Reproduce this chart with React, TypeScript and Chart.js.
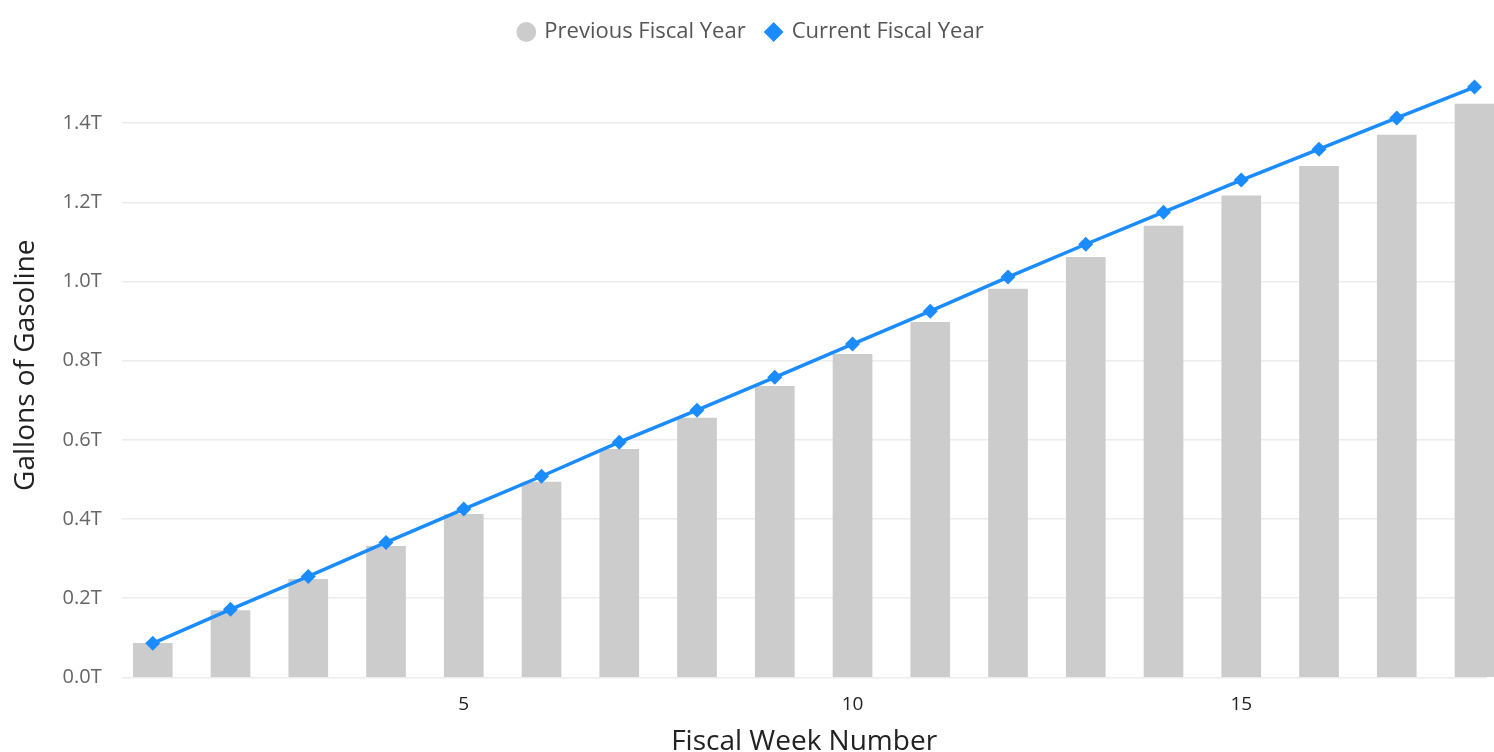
import React, { useEffect, useRef } from "react";
import { Chart, registerables } from "chart.js";

Chart.register(...registerables);

const weeks = [1, 2, 3, 4, 5, 6, 7, 8, 9, 10, 11, 12, 13, 14, 15, 16, 17, 18];
const previousFY = [0.086, 0.169, 0.248, 0.331, 0.412, 0.493, 0.576, 0.655, 0.735, 0.816, 0.897, 0.981, 1.061, 1.14, 1.216, 1.291, 1.37, 1.448];
const currentFY = [0.086, 0.172, 0.255, 0.341, 0.425, 0.508, 0.594, 0.675, 0.758, 0.842, 0.925, 1.011, 1.094, 1.175, 1.256, 1.334, 1.413, 1.491];
const xTicks = [5, 10, 15];
const yTicks = [0, 0.2, 0.4, 0.6, 0.8, 1.0, 1.2, 1.4];
const T = 1e12;

const FONT = "'Open Sans', 'Noto Sans', sans-serif";

export default function App() {
  const ref = useRef<HTMLCanvasElement | null>(null);
  useEffect(() => {
    document.body.style.margin = "0";
    if (!ref.current) return;
    const chart = new Chart(ref.current, {
      type: "bar",
      data: {
        datasets: [
          {
            type: "bar",
            label: "Previous Fiscal Year",
            data: weeks.map((w, i) => ({ x: w, y: previousFY[i] * T })),
            backgroundColor: "#cccccc",
            borderWidth: 0,
            barThickness: 39,
            clip: false,
            order: 2,
          } as any,
          {
            type: "line",
            label: "Current Fiscal Year",
            data: weeks.map((w, i) => ({ x: w, y: currentFY[i] * T })),
            borderColor: "#1a8cff",
            backgroundColor: "#1a8cff",
            borderWidth: 3.5,
            pointStyle: "rectRot",
            pointRadius: 7.5,
            pointBorderWidth: 0,
            clip: false,
            order: 1,
          } as any,
        ],
      },
      options: {
        animation: false,
        responsive: true,
        maintainAspectRatio: false,
        layout: { padding: { left: 9, right: 0, top: 0, bottom: 0 } },
        plugins: {
          tooltip: { enabled: false },
          legend: {
            position: "top",
            labels: {
              usePointStyle: true,
              font: { family: FONT, size: 22 },
              color: "#555555",
              boxWidth: 14,
              boxHeight: 14,
              padding: 21,
              generateLabels: (c: any) => {
                return c.data.datasets.map((ds: any, i: number) => ({
                  text: ds.label,
                  fillStyle: i === 0 ? "#cccccc" : "#1a8cff",
                  strokeStyle: i === 0 ? "#cccccc" : "#1a8cff",
                  lineWidth: 0,
                  pointStyle: i === 0 ? "circle" : "rectRot",
                  datasetIndex: i,
                  hidden: false,
                  fontColor: "#555555",
                }));
              },
            },
          },
        },
        scales: {
          x: {
            type: "linear",
            min: 0.601,
            max: 18.154,
            offset: false,
            grid: { display: false, offset: false },
            border: { display: false },
            afterBuildTicks: (s: any) => {
              s.ticks = xTicks.map((v) => ({ value: v }));
            },
            ticks: {
              font: { family: FONT, size: 19, lineHeight: 1.0 },
              color: "#222222",
              padding: 10,
              callback: (v: any) => String(v),
            },
            title: {
              display: true,
              text: "Fiscal Week Number",
              font: { family: FONT, size: 28 },
              color: "#222222",
              padding: { top: 1, bottom: -7 },
            },
          },
          y: {
            min: 0,
            max: 1.577 * T,
            afterBuildTicks: (s: any) => {
              s.ticks = yTicks.map((v) => ({ value: v * T }));
            },
            grid: { color: "#ececec", lineWidth: 1.5, drawTicks: false },
            border: { display: false },
            ticks: {
              font: { family: FONT, size: 20 },
              color: "#666666",
              padding: 20,
              callback: (v: any) => (Number(v) / T).toFixed(1) + "T",
            },
            title: {
              display: true,
              text: "Gallons of Gasoline",
              font: { family: FONT, size: 28 },
              color: "#222222",
              padding: { top: 0, bottom: 0 },
            },
          },
        },
      },
    });
    return () => chart.destroy();
  }, []);
  return (
    <div style={{ width: 1494, height: 752, position: "relative" }}>
      <canvas ref={ref} />
    </div>
  );
}
